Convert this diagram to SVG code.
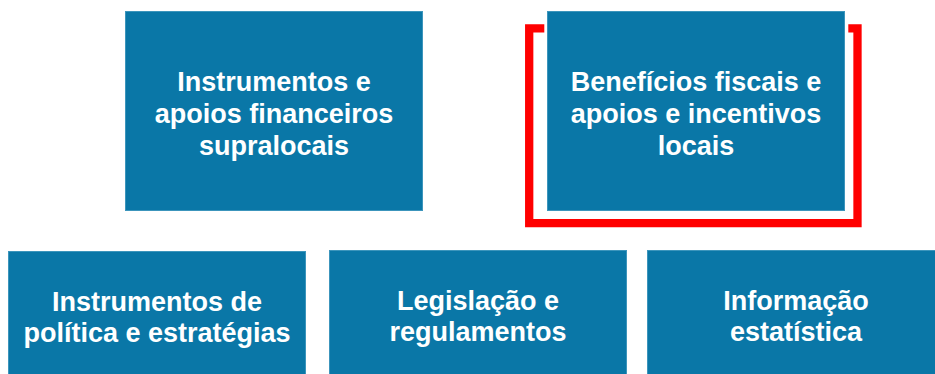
<svg xmlns="http://www.w3.org/2000/svg" width="935" height="374" viewBox="0 0 935 374">
<style>
.box{fill:#0A77A7;stroke:#3C95BC;stroke-width:1}
.t{font-family:"Liberation Sans",Arial,sans-serif;font-weight:bold;font-size:27px;fill:#FFFFFF;text-anchor:middle}
.br{fill:none;stroke:#FF0000;stroke-width:8.3;stroke-linejoin:miter;stroke-linecap:butt}
</style>
<rect width="935" height="374" fill="#FFFFFF"/>
<g id="connectors">
<path class="br" d="M544.3 28.3 H529.2 V223.2 H857.5 V28.3 H848.3"/>
</g>
<g id="n1">
<rect class="box" x="125.5" y="11.5" width="297" height="199"/>
<text class="t" x="274" y="90.7">Instrumentos e</text>
<text class="t" x="274" y="122.7">apoios financeiros</text>
<text class="t" x="274" y="154.7">supralocais</text>
</g>
<g id="n2">
<rect class="box" x="547.5" y="11.5" width="297" height="199"/>
<text class="t" x="696" y="90.7">Benefícios fiscais e</text>
<text class="t" x="696" y="122.7">apoios e incentivos</text>
<text class="t" x="696" y="154.7">locais</text>
</g>
<g id="n3">
<rect class="box" x="8.5" y="251.5" width="297" height="199"/>
<text class="t" x="157" y="311">Instrumentos de</text>
<text class="t" x="157" y="342">política e estratégias</text>
</g>
<g id="n4">
<rect class="box" x="329.5" y="250.5" width="297" height="199"/>
<text class="t" x="478" y="310">Legislação e</text>
<text class="t" x="478" y="341">regulamentos</text>
</g>
<g id="n5">
<rect class="box" x="647.5" y="250.5" width="297" height="199"/>
<text class="t" x="796" y="310">Informação</text>
<text class="t" x="796" y="341">estatística</text>
</g>
</svg>
